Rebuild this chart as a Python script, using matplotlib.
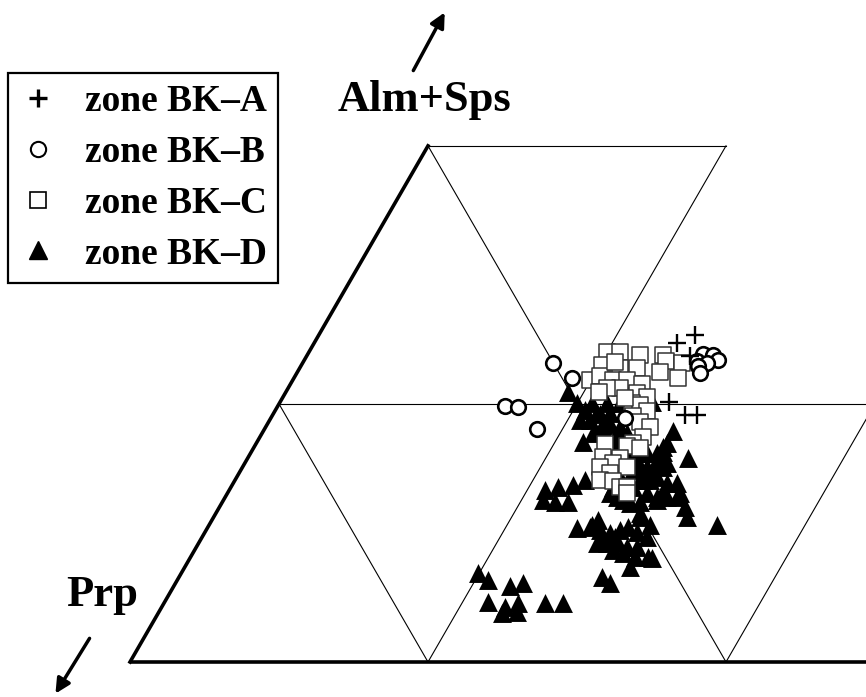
import numpy as np
import matplotlib.pyplot as plt
from matplotlib.lines import Line2D

# diagram coordinates: origin at the lower-left corner of the triangle,
# units such that the side of the main triangle is 596
SIDE = 596.0

zone_a_x = [565, 547, 560, 539, 555, 567]
zone_a_y = [327, 319, 306, 260, 247, 247]

zone_b_x = [573, 583, 588, 567, 577, 568, 570, 423, 442, 375, 388, 407, 495]
zone_b_y = [308, 307, 302, 301, 299, 296, 289, 299, 284, 256, 255, 233, 244]

zone_c_x = [477, 490, 510, 533, 536, 552, 530, 548, 472, 490, 507, 460, 470,
            483, 497, 490, 477, 469, 512, 507, 517, 502, 510, 517, 503, 510,
            520, 513, 503, 497, 510, 475, 473, 490, 483, 497, 470, 480, 470,
            483, 490, 497, 497, 495, 485]
zone_c_y = [310, 310, 307, 307, 301, 299, 290, 284, 297, 294, 294, 282, 286,
            282, 282, 274, 274, 270, 278, 269, 265, 259, 257, 251, 246, 240,
            235, 225, 219, 216, 214, 218, 205, 204, 199, 195, 195, 189, 182,
            181, 175, 175, 169, 264, 300]

zone_d_x = [447, 455, 462, 477, 490, 522, 450, 460, 470, 477, 473, 480, 453,
            463, 470, 480, 490, 487, 497, 483, 493, 500, 485, 507, 517, 527,
            533, 537, 543, 558, 530, 537, 517, 527, 510, 490, 503, 483, 455,
            443, 428, 415, 413, 425, 438, 537, 547, 550, 533, 527, 555, 557,
            587, 447, 462, 468, 470, 480, 490, 498, 507, 517, 520, 467, 477,
            487, 497, 507, 483, 493, 505, 518, 500, 522, 472, 480, 348, 358,
            380, 393, 358, 375, 372, 388, 387, 415, 433, 487, 500, 510, 510,
            503, 513, 503, 522, 533, 438, 473, 485, 533, 467, 477, 490, 493,
            482, 510, 507, 517, 527, 520, 527, 537, 547, 517, 493, 480, 510,
            460]
zone_d_y = [259, 252, 259, 259, 259, 260, 242, 242, 248, 242, 237, 249, 220,
            229, 232, 238, 235, 225, 229, 215, 219, 209, 199, 202, 209, 209,
            215, 219, 231, 204, 199, 199, 189, 185, 182, 185, 175, 175, 182,
            177, 175, 172, 162, 160, 160, 179, 179, 169, 169, 162, 155, 145,
            137, 134, 137, 142, 132, 129, 132, 135, 130, 125, 137, 119, 119,
            119, 115, 115, 112, 109, 105, 105, 95, 104, 85, 79, 89, 82,
            76, 79, 60, 55, 49, 59, 50, 59, 59, 165, 159, 160, 145,
            192, 182, 212, 192, 195, 270, 122, 125, 210, 249, 225, 222, 209,
            197, 209, 195, 195, 199, 182, 165, 165, 165, 169, 162, 169, 149,
            135]

labels = ["zone BK\u2013A", "zone BK\u2013B", "zone BK\u2013C", "zone BK\u2013D"]

serif = ["Liberation Serif", "DejaVu Serif"]

fig = plt.figure(figsize=(8.66, 6.97), dpi=100)
ax = fig.add_axes([0, 0, 1, 1])
xmin, xmax = -130, 736
ax.set_xlim(xmin, xmax)
ax.set_ylim(-35, 662)
ax.set_aspect("equal")
ax.axis("off")

# triangular grid (half-side spacing)
s = SIDE / 2
h = SIDE * np.sqrt(3) / 4
thin = dict(color="black", lw=0.8, zorder=1)
ax.plot([0, xmax], [0, 0], color="black", lw=2.6, solid_capstyle="butt", zorder=2)
ax.plot([0, s], [0, 2 * h], color="black", lw=2.6, zorder=2)
ax.plot([s / 2, xmax], [h, h], **thin)
ax.plot([s, 2 * s], [2 * h, 2 * h], **thin)
ax.plot([s, s / 2], [0, h], **thin)
ax.plot([s, 2 * s], [0, 2 * h], **thin)
ax.plot([2 * s, s], [0, 2 * h], **thin)
ax.plot([2 * s, 2.5 * s], [0, h], **thin)

# data
ax.scatter(zone_d_x, zone_d_y, marker="^", s=185, c="black", linewidths=0, zorder=3)
ax.scatter(zone_c_x, zone_c_y, marker="s", s=145, facecolors="white",
           edgecolors="#333333", linewidths=1.1, zorder=4)
ax.scatter(zone_b_x, zone_b_y, marker="o", s=110, facecolors="white",
           edgecolors="black", linewidths=1.9, zorder=5)
ax.scatter(zone_a_x, zone_a_y, marker="+", s=150, c="black", linewidths=1.7, zorder=6)

# axis labels and arrows
ax.text(295, 562, "Alm+Sps", fontsize=32, fontweight="bold", family=serif,
        ha="center", va="center")
ax.text(-28, 67, "Prp", fontsize=32, fontweight="bold", family=serif,
        ha="center", va="center")
ax.annotate("", xy=(316, 652), xytext=(282, 589),
            arrowprops=dict(arrowstyle="-|>", lw=2.5, color="black", mutation_scale=22))
ax.annotate("", xy=(-76, -34), xytext=(-39, 26),
            arrowprops=dict(arrowstyle="-|>", lw=2.5, color="black", mutation_scale=22))

handles = [
    Line2D([], [], ls="", marker="+", ms=13, mew=2.4, color="black"),
    Line2D([], [], ls="", marker="o", ms=11, mew=1.5, mfc="white", mec="black"),
    Line2D([], [], ls="", marker="s", ms=11, mew=1.2, mfc="white", mec="black"),
    Line2D([], [], ls="", marker="^", ms=13, color="black"),
]
leg = ax.legend(handles, labels, loc="upper left",
                bbox_to_anchor=(8 / 866, 1 - 73 / 697), bbox_transform=fig.transFigure,
                borderaxespad=0, fancybox=False, framealpha=1, edgecolor="black",
                prop=dict(family=serif, weight="bold", size=27),
                handlelength=1.0, handletextpad=0.75, labelspacing=0.42,
                borderpad=0.3)
leg.get_frame().set_linewidth(1.6)

fig.savefig("out.png", dpi=100)
